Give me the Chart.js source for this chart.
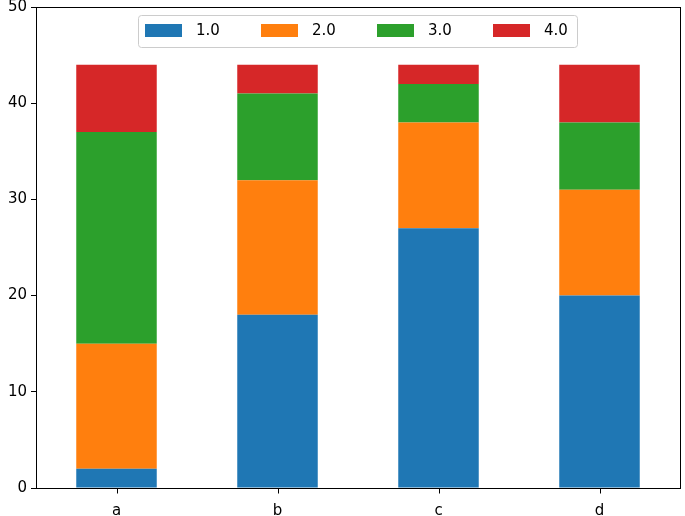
<!DOCTYPE html>
<html>
<head>
<meta charset="utf-8">
<script src="https://cdn.jsdelivr.net/npm/chart.js@4"></script>
<style>
html,body{margin:0;padding:0;background:#fff;overflow:hidden;}
#wrap{width:685px;height:516px;}
canvas{display:block;}
</style>
</head>
<body>
<div id="wrap"><canvas id="c" width="685" height="516"></canvas></div>
<script>
const categories = ['a', 'b', 'c', 'd'];
const seriesNames = ['1.0', '2.0', '3.0', '4.0'];
const s1 = [2, 18, 27, 20];
const s2 = [13, 14, 11, 11];
const s3 = [22, 9, 4, 7];
const s4 = [7, 3, 2, 6];
const yTicks = [0, 10, 20, 30, 40, 50];
const colors = ['#1f77b4', '#ff7f0e', '#2ca02c', '#d62728'];

const FONT = "'DejaVu Sans', sans-serif";

const boxPlugin = {
  id: 'box',
  afterDraw(chart) {
    const {ctx, chartArea: a, scales} = chart;
    ctx.save();
    ctx.strokeStyle = '#000';
    ctx.lineWidth = 1;
    ctx.strokeRect(Math.round(a.left) + 0.5, Math.round(a.top) + 0.5, Math.round(a.right - a.left), Math.round(a.bottom - a.top));
    // x tick marks at category centres
    ctx.beginPath();
    categories.forEach((c, i) => {
      const px = Math.round(scales.x.getPixelForValue(i)) + 0.5;
      ctx.moveTo(px, Math.round(a.bottom) + 0.5);
      ctx.lineTo(px, Math.round(a.bottom) + 5.5);
    });
    ctx.stroke();
    // legend
    const lx = 138.5, ly = 15.5, lw = 439, lh = 32;
    ctx.fillStyle = 'rgba(255,255,255,0.8)';
    ctx.strokeStyle = '#cccccc';
    ctx.lineWidth = 1;
    ctx.beginPath();
    if (ctx.roundRect) ctx.roundRect(lx, ly, lw, lh, 3); else ctx.rect(lx, ly, lw, lh);
    ctx.fill(); ctx.stroke();
    ctx.font = "15px " + FONT;
    ctx.textBaseline = 'middle';
    ctx.textAlign = 'left';
    chart.data.datasets.forEach((ds, i) => {
      const px = 145 + i * 116;
      ctx.fillStyle = ds.backgroundColor;
      ctx.fillRect(px, 24, 37, 13);
      ctx.fillStyle = '#000';
      ctx.fillText(ds.label, px + 51, 31);
    });
    ctx.restore();
  }
};

new Chart(document.getElementById('c'), {
  type: 'bar',
  data: {
    labels: categories,
    datasets: [s1, s2, s3, s4].map((d, i) => ({
      label: seriesNames[i],
      data: d,
      backgroundColor: colors[i],
      borderWidth: 0,
      barPercentage: 0.5,
      categoryPercentage: 1.0
    }))
  },
  options: {
    responsive: false,
    animation: false,
    devicePixelRatio: 1,
    layout: {padding: {top: 0, right: 5, left: 0, bottom: 0}},
    plugins: {legend: {display: false}, tooltip: {enabled: false}},
    scales: {
      x: {
        stacked: true,
        grid: {display: false},
        border: {display: false},
        ticks: {color: '#000', font: {family: FONT, size: 15}, padding: 6},
        afterFit(s) { s.height = 28; s.paddingLeft = 0; s.paddingRight = 0; }
      },
      y: {
        stacked: true,
        min: 0, max: 50,
        afterBuildTicks(s) { s.ticks = yTicks.map(v => ({value: v})); },
        grid: {display: true, drawOnChartArea: false, drawTicks: true, tickLength: 5, tickColor: '#000'},
        border: {display: false},
        ticks: {color: '#000', font: {family: FONT, size: 15}, padding: 4},
        afterFit(s) { s.width = 36; s.paddingTop = 7; s.paddingBottom = 0; }
      }
    }
  },
  plugins: [boxPlugin]
});
</script>
</body>
</html>
